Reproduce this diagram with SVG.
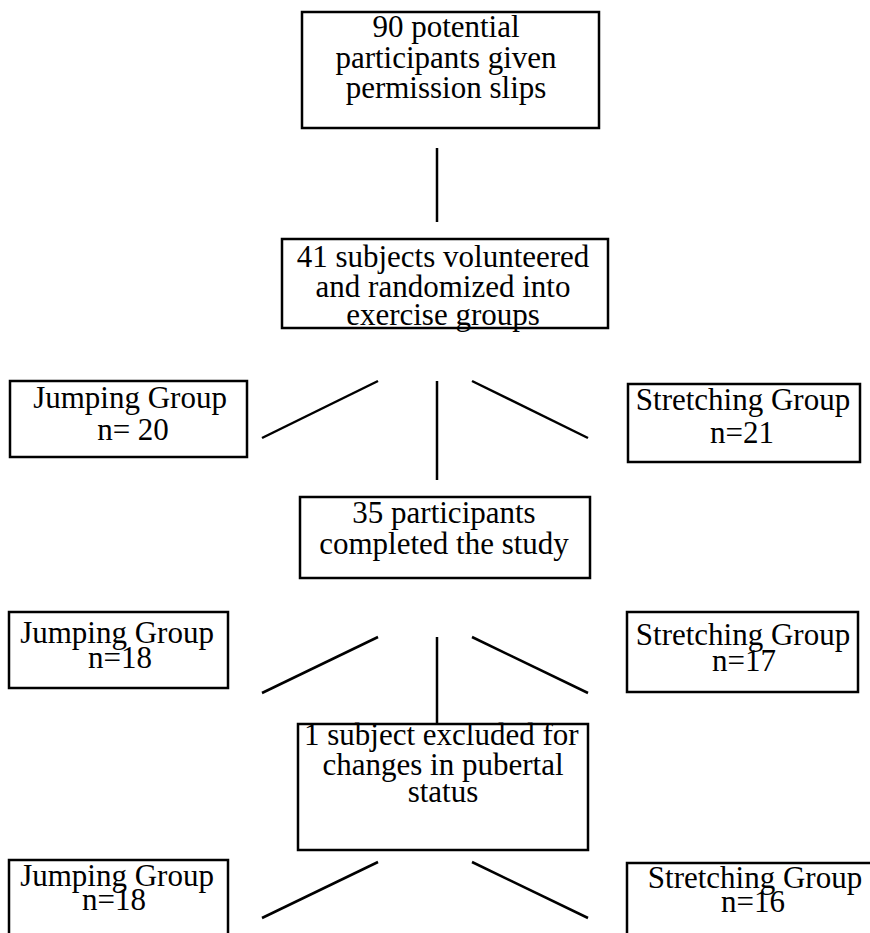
<svg xmlns="http://www.w3.org/2000/svg" width="870" height="933" viewBox="0 0 870 933">
<style>
.box{fill:#fff;stroke:#000;stroke-width:2.5}
.t{font-family:"Liberation Serif","Times New Roman",serif;font-size:31px;fill:#000;text-anchor:middle}
.ln{stroke:#000;stroke-width:2.5;fill:none}
</style>
<rect width="870" height="933" fill="#fff"/>
<g id="connectors">
<line class="ln" x1="437" y1="148" x2="437" y2="222"/>
<line class="ln" x1="262" y1="438" x2="378" y2="381"/>
<line class="ln" x1="437" y1="381" x2="437" y2="480"/>
<line class="ln" x1="472" y1="381" x2="588" y2="438"/>
<line class="ln" x1="262" y1="693" x2="378" y2="637"/>
<line class="ln" x1="437" y1="637" x2="437" y2="725"/>
<line class="ln" x1="472" y1="637" x2="588" y2="693"/>
<line class="ln" x1="262" y1="918" x2="378" y2="862"/>
<line class="ln" x1="472" y1="862" x2="588" y2="918"/>
</g>
<g id="n_potential">
<rect class="box" x="302" y="12" width="297" height="116"/>
<text class="t" x="446" y="37">90 potential</text>
<text class="t" x="446" y="68">participants given</text>
<text class="t" x="446" y="98">permission slips</text>
</g>
<g id="n_volunteered">
<rect class="box" x="282" y="239" width="326" height="89"/>
<text class="t" x="443" y="267">41 subjects volunteered</text>
<text class="t" x="443" y="297">and randomized into</text>
<text class="t" x="443" y="325">exercise groups</text>
</g>
<g id="n_jump1">
<rect class="box" x="10" y="381" width="237" height="76"/>
<text class="t" x="130" y="408">Jumping Group</text>
<text class="t" x="133" y="440">n= 20</text>
</g>
<g id="n_stretch1">
<rect class="box" x="628" y="384" width="232" height="78"/>
<text class="t" x="743" y="410">Stretching Group</text>
<text class="t" x="742" y="443">n=21</text>
</g>
<g id="n_completed">
<rect class="box" x="300" y="497" width="290" height="81"/>
<text class="t" x="444" y="523">35 participants</text>
<text class="t" x="444" y="554">completed the study</text>
</g>
<g id="n_jump2">
<rect class="box" x="9" y="612" width="219" height="76"/>
<text class="t" x="117" y="643">Jumping Group</text>
<text class="t" x="120" y="668">n=18</text>
</g>
<g id="n_stretch2">
<rect class="box" x="627" y="612" width="231" height="80"/>
<text class="t" x="743" y="645">Stretching Group</text>
<text class="t" x="744" y="671">n=17</text>
</g>
<g id="n_excluded">
<rect class="box" x="298" y="724" width="290" height="126"/>
<text class="t" x="304" y="745" style="text-anchor:start">1 subject  excluded for</text>
<text class="t" x="443" y="775">changes in pubertal</text>
<text class="t" x="443" y="802">status</text>
</g>
<g id="n_jump3">
<rect class="box" x="9" y="860" width="219" height="90"/>
<text class="t" x="117" y="886">Jumping Group</text>
<text class="t" x="114" y="910">n=18</text>
</g>
<g id="n_stretch3">
<rect class="box" x="627" y="863" width="260" height="90"/>
<text class="t" x="755" y="888">Stretching Group</text>
<text class="t" x="753" y="912">n=16</text>
</g>
</svg>
